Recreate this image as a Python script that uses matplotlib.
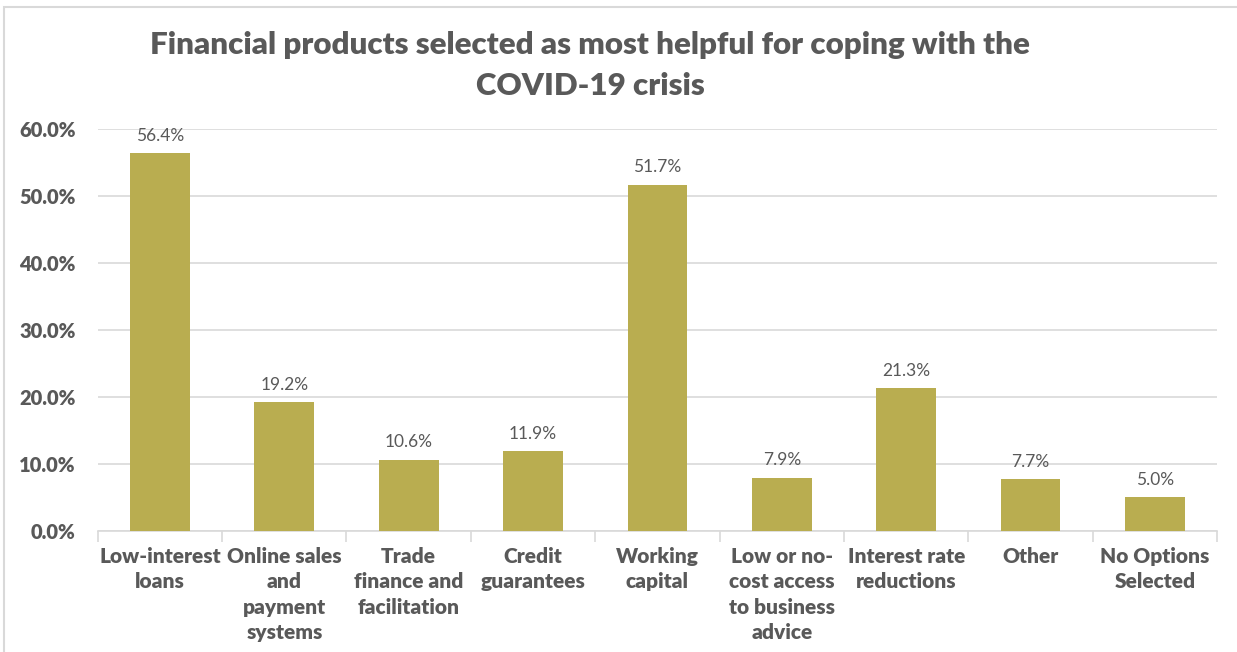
import matplotlib
matplotlib.use("Agg")
import matplotlib.pyplot as plt
from matplotlib.patches import Rectangle
import numpy as np

categories = ["Low-interest\nloans", "Online sales\nand\npayment\nsystems", "Trade\nfinance and\nfacilitation",
              "Credit\nguarantees", "Working\ncapital", "Low or no-\ncost access\nto business\nadvice",
              "Interest rate\nreductions", "Other", "No Options\nSelected"]
values = [56.4, 19.2, 10.6, 11.9, 51.7, 7.9, 21.3, 7.7, 5.0]
yticks = [0, 10, 20, 30, 40, 50, 60]

plt.rcParams['font.family'] = ['Lato', 'DejaVu Sans']
txt = "#595959"
barc = "#b9ad50"

fig = plt.figure(figsize=(12.37, 6.52), dpi=100)
fig.patches.append(Rectangle((0.003, -0.01), 1.2, 1.0, transform=fig.transFigure,
                             fill=False, edgecolor="#d9d9d9", linewidth=1.5))
ax = fig.add_axes([0.079, 0.186, 0.905, 0.616])
x = np.arange(len(categories))
ax.bar(x, values, width=0.48, color=barc, zorder=3)
for xi, v in zip(x, values):
    ax.text(xi, v + 1.4, f"{v:.1f}%", ha="center", va="bottom", fontsize=12.5, color=txt)

ax.set_ylim(0, 60)
ax.set_xlim(-0.5, len(categories) - 0.5)
ax.set_yticks(yticks)
ax.set_yticklabels([f"{t:.1f}%" for t in yticks], fontsize=14.5, fontweight="heavy", color=txt)
ax.yaxis.grid(True, color="#d9d9d9", linewidth=1.2, zorder=0)
ax.tick_params(axis="y", length=0, pad=16)
ax.set_xticks(x)
ax.set_xticklabels(categories, fontsize=15, fontweight="heavy", color=txt, linespacing=1.38)
ax.set_xticks(np.arange(-0.5, len(categories)), minor=True)
ax.tick_params(axis="x", which="major", length=0, pad=12)
ax.tick_params(axis="x", which="minor", length=8, color="#d9d9d9", width=1.2)
for s in ["top", "right", "left"]:
    ax.spines[s].set_visible(False)
ax.spines["bottom"].set_color("#d9d9d9")
ax.spines["bottom"].set_linewidth(1.2)

fig.text(0.477, 0.9, "Financial products selected as most helpful for coping with the\nCOVID-19 crisis",
         ha="center", va="center", fontsize=22.5, fontweight="heavy", color=txt, linespacing=1.55)

fig.savefig("out.png", dpi=100)
